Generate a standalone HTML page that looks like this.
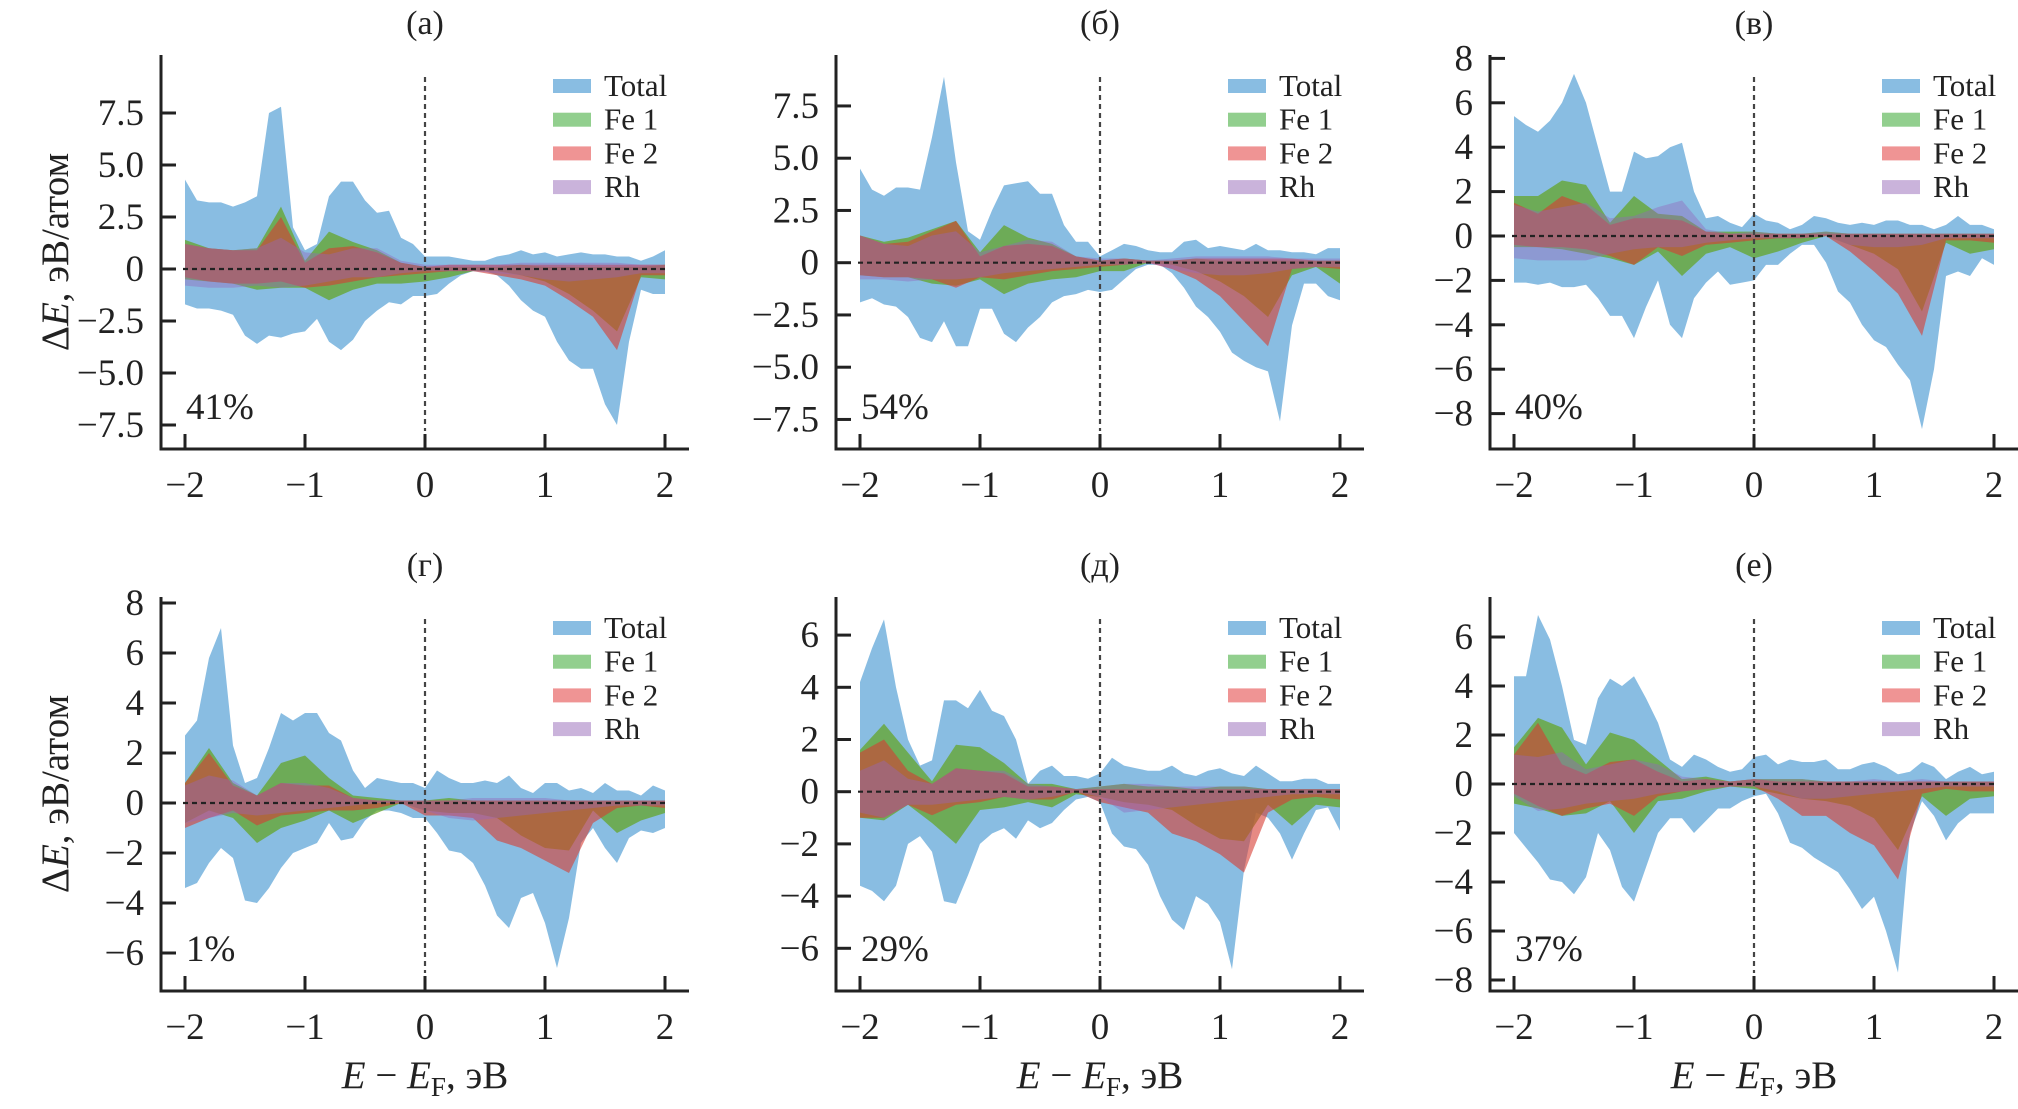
<!DOCTYPE html>
<html><head><meta charset="utf-8">
<style>
html,body{margin:0;padding:0;background:#fff;}
svg{display:block;font-family:"Liberation Serif",serif;}
svg text{font-family:"Liberation Serif",serif;}
</style></head>
<body>
<svg id="fig" width="2018" height="1109" viewBox="0 0 2018 1109" xmlns="http://www.w3.org/2000/svg"></svg>
<script>
const xFine=[-2.0,-1.9,-1.8,-1.7,-1.6,-1.5,-1.4,-1.3,-1.2,-1.1,-1.0,-0.9,-0.8,-0.7,-0.6,-0.5,-0.4,-0.3,-0.2,-0.1,0.0,0.1,0.2,0.3,0.4,0.5,0.6,0.7,0.8,0.9,1.0,1.1,1.2,1.3,1.4,1.5,1.6,1.7,1.8,1.9,2.0];
const xCoarse=[-2.0,-1.8,-1.6,-1.4,-1.2,-1.0,-0.8,-0.6,-0.4,-0.2,0.0,0.2,0.4,0.6,0.8,1.0,1.2,1.4,1.6,1.8,2.0];
const xTicks=[-2,-1,0,1,2];
const xTickLabels=["−2","−1","0","1","2"];
const panelTitles=["(а)","(б)","(в)","(г)","(д)","(е)"];
const panelPercents=["41%","54%","40%","1%","29%","37%"];
const seriesNames=["Total","Fe 1","Fe 2","Rh"];
const yTicksA=[-7.5,-5,-2.5,0,2.5,5,7.5];
const yTicksB=[-7.5,-5,-2.5,0,2.5,5,7.5];
const yTicksC=[-8,-6,-4,-2,0,2,4,6,8];
const yTicksD=[-6,-4,-2,0,2,4,6,8];
const yTicksE=[-6,-4,-2,0,2,4,6];
const yTicksF=[-8,-6,-4,-2,0,2,4,6];

// Panel (а)
const totalUpA=[4.3,3.3,3.2,3.2,3.0,3.2,3.5,7.5,7.8,2.0,0.9,1.2,3.5,4.2,4.2,3.3,2.7,2.8,1.5,1.2,0.6,0.6,0.6,0.5,0.4,0.4,0.6,0.7,0.9,0.7,0.8,0.6,0.7,0.8,0.7,0.7,0.6,0.6,0.4,0.6,0.9];
const totalLoA=[-1.7,-1.9,-1.9,-2.0,-2.2,-3.2,-3.6,-3.2,-3.3,-3.1,-3.0,-2.4,-3.5,-3.9,-3.4,-2.5,-2.0,-1.6,-1.7,-1.3,-1.3,-1.2,-0.7,-0.3,-0.1,-0.1,-0.3,-0.8,-1.5,-2.0,-2.3,-3.5,-4.4,-4.8,-4.8,-6.5,-7.5,-3.5,-1.0,-1.2,-1.2];
const fe1UpA=[1.4,1.0,0.9,1.0,3.0,0.4,1.8,1.3,0.9,0.3,0.1,0.1,0.1,0.1,0.2,0.1,0.1,0.1,0.1,0.1,0.2];
const fe1LoA=[-0.5,-0.6,-0.7,-1.0,-0.9,-0.9,-1.5,-1.0,-0.7,-0.7,-0.6,-0.4,-0.1,-0.1,-0.3,-0.6,-1.2,-2.0,-3.0,-0.4,-0.5];
const fe2UpA=[1.2,1.0,0.9,0.9,2.5,0.3,1.0,1.1,0.8,0.3,0.1,0.2,0.2,0.2,0.2,0.2,0.2,0.2,0.2,0.2,0.2];
const fe2LoA=[-0.4,-0.6,-0.7,-0.7,-0.6,-0.9,-0.8,-0.6,-0.4,-0.3,-0.2,-0.1,-0.1,-0.3,-0.5,-0.8,-1.5,-2.3,-3.9,-0.3,-0.3];
const rhUpA=[1.2,1.0,0.9,1.0,1.5,0.8,0.7,1.0,1.0,0.4,0.2,0.2,0.2,0.2,0.3,0.3,0.3,0.3,0.3,0.2,0.2];
const rhLoA=[-0.8,-0.9,-0.9,-0.8,-0.9,-0.8,-0.6,-0.4,-0.4,-0.2,-0.1,-0.1,-0.1,-0.2,-0.3,-0.5,-0.6,-0.5,-0.4,-0.2,-0.2];

// Panel (б)
const totalUpB=[4.5,3.5,3.2,3.6,3.6,3.5,6.0,8.9,4.8,1.5,1.1,2.5,3.7,3.8,3.9,3.3,3.3,1.8,1.0,1.0,0.3,0.6,0.9,0.8,0.6,0.5,0.5,1.0,1.1,0.7,0.8,0.7,0.6,0.9,0.6,0.6,0.5,0.5,0.4,0.7,0.7];
const totalLoB=[-1.9,-1.7,-2.0,-2.1,-2.6,-3.6,-3.8,-2.8,-4.0,-4.0,-2.2,-2.2,-3.4,-3.8,-3.1,-2.6,-1.9,-1.6,-1.5,-1.3,-1.4,-1.3,-0.8,-0.3,-0.1,-0.1,-0.5,-1.2,-2.1,-2.6,-3.3,-4.3,-4.7,-5.0,-5.2,-7.6,-3.0,-1.0,-1.0,-1.6,-1.8];
const fe1UpB=[1.3,1.0,1.2,1.6,2.0,0.5,1.8,1.2,0.9,0.3,0.1,0.2,0.1,0.1,0.2,0.1,0.1,0.1,0.1,0.1,0.1];
const fe1LoB=[-0.6,-0.7,-0.7,-1.0,-1.1,-0.8,-1.5,-1.0,-0.8,-0.7,-0.4,-0.4,0,-0.1,-0.4,-0.9,-1.6,-2.6,-0.6,-0.2,-1.0];
const fe2UpB=[1.3,0.9,1.0,1.5,2.0,0.3,0.8,0.9,0.8,0.3,0.1,0.2,0.1,0.1,0.2,0.2,0.2,0.2,0.2,0.1,0.1];
const fe2LoB=[-0.6,-0.7,-0.7,-0.8,-1.2,-0.7,-0.8,-0.6,-0.4,-0.3,-0.2,-0.1,0,-0.3,-0.8,-1.6,-2.8,-4.0,-0.3,-0.2,-0.3];
const rhUpB=[1.3,0.9,0.8,1.3,1.5,0.5,0.8,1.1,1.0,0.3,0.2,0.2,0.1,0.2,0.3,0.3,0.3,0.3,0.2,0.2,0.2];
const rhLoB=[-0.8,-0.8,-0.9,-0.8,-0.8,-0.7,-0.5,-0.4,-0.3,-0.2,-0.1,-0.1,0,-0.3,-0.5,-0.6,-0.6,-0.5,-0.3,-0.2,-0.2];

// Panel (в)
const totalUpC=[5.4,5.0,4.7,5.2,6.0,7.3,6.0,4.0,2.0,2.0,3.8,3.5,3.6,4.0,4.2,2.0,0.8,0.9,0.6,0.4,1.0,0.7,0.6,0.3,0.5,0.9,0.8,0.6,0.5,0.6,0.5,0.7,0.7,0.5,0.5,0.3,0.5,0.9,0.5,0.5,0.3];
const totalLoC=[-2.1,-2.1,-2.2,-2.1,-2.3,-2.3,-2.2,-2.8,-3.6,-3.6,-4.6,-3.2,-2.0,-4.0,-4.6,-2.8,-2.1,-1.6,-2.2,-2.1,-2.0,-1.3,-1.3,-0.8,-0.4,-0.4,-1.2,-2.5,-3.0,-4.0,-4.7,-5.0,-5.8,-6.5,-8.7,-6.0,-1.8,-1.6,-1.8,-1.0,-1.3];
const fe1UpC=[1.8,1.8,2.5,2.3,0.6,1.8,1.0,0.9,0.2,0.2,0.2,0.1,0.1,0.2,0.1,0.1,0.1,0.1,0.1,0.1,0.1];
const fe1LoC=[-0.5,-0.5,-0.6,-0.8,-1.0,-1.3,-0.7,-1.8,-0.8,-0.5,-1.0,-0.7,-0.3,0,-0.4,-0.8,-1.5,-3.4,-0.3,-0.8,-0.6];
const fe2UpC=[1.5,1.0,1.8,1.4,0.5,0.8,0.8,0.7,0.2,0.1,0.1,0.1,0.1,0.1,0.1,0.1,0.1,0.1,0.1,0.1,0.1];
const fe2LoC=[-0.4,-0.5,-0.5,-0.6,-0.9,-1.3,-0.5,-0.9,-0.4,-0.3,-0.2,-0.1,-0.1,0,-0.7,-1.6,-2.6,-4.5,-0.2,-0.2,-0.3];
const rhUpC=[1.4,1.1,1.3,1.5,0.8,0.9,1.3,1.6,0.3,0.1,0.2,0.1,0.1,0.2,0.1,0.1,0.1,0.1,0.1,0.1,0.1];
const rhLoC=[-1.0,-1.1,-1.1,-1.1,-0.8,-0.6,-0.5,-0.5,-0.3,-0.2,-0.1,-0.1,-0.1,0,-0.4,-0.5,-0.5,-0.4,-0.1,-0.1,-0.1];

// Panel (г)
const totalUpD=[2.7,3.3,5.8,7.0,2.3,0.8,1.0,2.2,3.6,3.3,3.6,3.6,2.8,2.5,1.3,0.6,1.0,0.9,0.8,0.8,0.6,1.3,1.0,0.8,0.8,0.9,0.8,1.1,0.6,0.4,0.8,0.8,0.5,0.6,0.4,0.8,0.5,0.5,0.3,0.7,0.5];
const totalLoD=[-3.4,-3.2,-2.4,-1.8,-2.2,-3.9,-4.0,-3.4,-2.6,-2.0,-1.8,-1.6,-0.8,-1.5,-1.4,-0.7,-0.3,-0.3,-0.4,-0.6,-0.6,-1.2,-1.9,-2.0,-2.4,-3.3,-4.5,-5.0,-3.8,-3.6,-4.8,-6.6,-4.6,-1.6,-1.0,-1.8,-2.4,-1.4,-1.1,-1.2,-1.0];
const fe1UpD=[0.8,2.2,0.8,0.3,1.6,1.9,1.0,0.3,0.2,0.1,0.1,0.2,0.1,0.1,0.1,0.1,0.1,0.1,0.1,0.1,0.1];
const fe1LoD=[-0.8,-0.3,-0.6,-1.6,-1.0,-0.7,-0.3,-0.8,-0.4,0,-0.3,-0.4,-0.4,-0.6,-1.3,-1.8,-1.9,-0.3,-1.2,-0.7,-0.4];
const fe2UpD=[0.8,2.0,0.7,0.3,0.8,0.7,0.7,0.2,0.1,0.1,0.1,0.1,0.1,0.1,0.1,0.1,0.1,0.1,0.1,0.1,0.1];
const fe2LoD=[-1.0,-0.6,-0.3,-0.9,-0.5,-0.4,-0.3,-0.3,-0.2,0,-0.5,-0.5,-0.6,-1.5,-1.8,-2.3,-2.8,-0.8,-0.2,-0.1,-0.2];
const rhUpD=[0.7,1.1,0.9,0.3,0.8,0.8,0.6,0.2,0.1,0.1,0.1,0.1,0.2,0.2,0.2,0.2,0.1,0.1,0.1,0.1,0.1];
const rhLoD=[-0.8,-0.6,-0.4,-0.5,-0.4,-0.3,-0.2,-0.1,0,0,-0.3,-0.6,-0.7,-0.6,-0.5,-0.4,-0.3,-0.2,-0.1,-0.1,-0.1];

// Panel (д)
const totalUpE=[4.2,5.5,6.6,4.0,2.0,1.0,1.2,3.5,3.5,3.2,3.9,3.1,2.9,2.0,0.3,0.8,1.0,0.6,0.6,0.5,0.7,1.3,1.0,0.9,0.8,0.8,1.0,0.7,0.6,0.8,0.9,0.7,0.6,1.0,0.7,0.4,0.4,0.5,0.5,0.3,0.3];
const totalLoE=[-3.6,-3.8,-4.2,-3.6,-2.0,-1.7,-2.3,-4.2,-4.3,-3.2,-2.0,-1.6,-1.4,-1.8,-1.1,-1.4,-1.2,-0.7,-0.3,-0.2,-0.4,-1.6,-2.1,-2.2,-2.8,-4.0,-4.9,-5.3,-4.0,-4.3,-5.0,-6.8,-3.0,-0.8,-1.0,-1.6,-2.6,-1.6,-0.7,-0.6,-1.5];
const fe1UpE=[1.6,2.6,1.5,0.4,1.8,1.7,1.1,0.3,0.3,0.1,0.2,0.3,0.2,0.2,0.1,0.2,0.2,0.1,0.1,0.1,0.1];
const fe1LoE=[-1.0,-1.1,-0.5,-1.2,-2.0,-0.7,-0.6,-0.4,-0.6,-0.1,-0.2,-0.4,-0.5,-0.7,-1.3,-1.8,-1.9,-0.5,-1.3,-0.5,-0.6];
const fe2UpE=[1.5,2.0,0.8,0.3,0.9,0.8,0.7,0.2,0.2,0.1,0.1,0.1,0.1,0.1,0.1,0.1,0.1,0.1,0.1,0.1,0.1];
const fe2LoE=[-1.0,-1.0,-0.5,-0.9,-0.5,-0.4,-0.2,-0.3,-0.3,0,-0.4,-0.6,-0.8,-1.6,-1.9,-2.4,-3.1,-0.8,-0.3,-0.2,-0.3];
const rhUpE=[0.8,1.2,0.5,0.3,0.9,0.8,0.8,0.3,0.2,0.1,0.2,0.3,0.3,0.2,0.2,0.2,0.2,0.1,0.1,0.1,0.1];
const rhLoE=[-0.8,-1.0,-0.5,-0.5,-0.4,-0.3,-0.2,-0.3,-0.2,0,-0.2,-0.8,-0.7,-0.6,-0.5,-0.4,-0.3,-0.2,-0.1,-0.1,-0.1];

// Panel (е)
const totalUpF=[4.4,4.4,6.9,5.9,4.0,1.8,1.6,3.5,4.3,4.0,4.4,3.5,2.5,1.0,0.7,1.2,1.0,0.7,0.5,0.6,1.1,1.2,0.8,1.0,0.9,0.9,1.0,0.6,0.6,0.8,0.9,0.7,0.4,0.5,0.9,0.7,0.2,0.5,0.7,0.4,0.5];
const totalLoF=[-2.0,-2.6,-3.2,-3.9,-4.0,-4.5,-3.8,-2.0,-2.7,-4.2,-4.8,-3.4,-2.0,-1.4,-1.4,-2.0,-1.5,-1.0,-1.0,-0.7,-0.5,-0.4,-1.2,-2.4,-2.6,-3.0,-3.3,-3.6,-4.3,-5.1,-4.6,-6.0,-7.7,-2.0,-0.7,-1.3,-2.3,-1.6,-1.2,-1.2,-1.2];
const fe1UpF=[1.5,2.7,2.3,0.8,2.1,1.8,1.0,0.2,0.3,0.1,0.2,0.2,0.2,0.1,0.1,0.1,0.1,0.1,0.1,0.1,0.1];
const fe1LoF=[-0.8,-1.0,-1.3,-1.2,-0.7,-2.0,-0.7,-0.6,-0.3,-0.1,-0.2,-0.4,-0.6,-0.7,-0.9,-1.4,-2.7,-0.5,-1.3,-0.6,-0.5];
const fe2UpF=[1.2,2.5,0.8,0.4,0.9,1.0,0.5,0.1,0.2,0.1,0.2,0.1,0.1,0.1,0.1,0.1,0.1,0.1,0.1,0.1,0.1];
const fe2LoF=[-0.4,-0.9,-1.3,-1.0,-0.8,-1.3,-0.5,-0.3,-0.2,-0.1,-0.1,-0.6,-1.3,-1.3,-2.0,-2.5,-3.9,-0.4,-0.2,-0.3,-0.3];
const rhUpF=[1.2,1.1,1.3,0.6,0.8,1.0,0.8,0.3,0.2,0.1,0.2,0.2,0.2,0.1,0.1,0.2,0.1,0.2,0.1,0.1,0.1];
const rhLoF=[-0.5,-1.1,-1.0,-0.8,-0.7,-0.6,-0.4,-0.3,-0.2,-0.1,-0.1,-0.3,-0.6,-0.6,-0.5,-0.4,-0.3,-0.2,-0.1,-0.1,-0.1];

const panelData=[
 {t:[totalUpA,totalLoA],f1:[fe1UpA,fe1LoA],f2:[fe2UpA,fe2LoA],rh:[rhUpA,rhLoA],yt:yTicksA},
 {t:[totalUpB,totalLoB],f1:[fe1UpB,fe1LoB],f2:[fe2UpB,fe2LoB],rh:[rhUpB,rhLoB],yt:yTicksB},
 {t:[totalUpC,totalLoC],f1:[fe1UpC,fe1LoC],f2:[fe2UpC,fe2LoC],rh:[rhUpC,rhLoC],yt:yTicksC},
 {t:[totalUpD,totalLoD],f1:[fe1UpD,fe1LoD],f2:[fe2UpD,fe2LoD],rh:[rhUpD,rhLoD],yt:yTicksD},
 {t:[totalUpE,totalLoE],f1:[fe1UpE,fe1LoE],f2:[fe2UpE,fe2LoE],rh:[rhUpE,rhLoE],yt:yTicksE},
 {t:[totalUpF,totalLoF],f1:[fe1UpF,fe1LoF],f2:[fe2UpF,fe2LoF],rh:[rhUpF,rhLoF],yt:yTicksF}
];
const layout=[
 {ax:161,top:55,bot:449,y0:269,yu:20.8},
 {ax:836,top:55,bot:449,y0:262.7,yu:20.9},
 {ax:1490,top:55,bot:449,y0:236,yu:22.2},
 {ax:161,top:597,bot:991,y0:803,yu:25},
 {ax:836,top:597,bot:991,y0:791.7,yu:26.1},
 {ax:1490,top:597,bot:991,y0:784,yu:24.5}
];
const fills=["#89bde2","rgba(100,165,40,0.75)","rgba(215,60,50,0.6)","rgba(148,103,189,0.42)"];
const legendFills=["#89bde2","#92cf8e","#ef9494","#cab3db"];
const FONT='"Liberation Serif", serif';
const NS="http://www.w3.org/2000/svg";
const svg=document.getElementById('fig');
function mk(tag,attrs,parent){const e=document.createElementNS(NS,tag);for(const k in attrs)e.setAttribute(k,attrs[k]);if(tag==='text')e.setAttribute('font-family',FONT);(parent||svg).appendChild(e);return e;}
function fmt(v,dec){const s=dec?Math.abs(v).toFixed(1):String(Math.abs(v));return v===0?"0":(v<0?"−":"")+s;}

layout.forEach((L,pi)=>{
  const D=panelData[pi];
  const xs=v=>L.ax+24+(v+2)*120;
  const ys=v=>L.y0-v*L.yu;
  const g=mk('g',{});
  
  
  function band(xarr,up,lo,fill,name){
    let d="M"+xarr.map((x,i)=>xs(x).toFixed(1)+","+ys(up[i]).toFixed(1)).join("L");
    for(let i=xarr.length-1;i>=0;i--)d+="L"+xs(xarr[i]).toFixed(1)+","+ys(lo[i]).toFixed(1);
    const p=mk('path',{d:d+"Z",fill:fill,stroke:'none'},g);
    
    
  }
  band(xFine,D.t[0],D.t[1],fills[0],'total-band');
  band(xCoarse,D.f1[0],D.f1[1],fills[1],'fe1-band');
  band(xCoarse,D.f2[0],D.f2[1],fills[2],'fe2-band');
  band(xCoarse,D.rh[0],D.rh[1],fills[3],'rh-band');
  const hz=mk('line',{x1:xs(-2)-2,x2:xs(2)+2,y1:ys(0),y2:ys(0),stroke:'#222','stroke-width':2.2,'stroke-dasharray':'5,4'},g);
  
  
  const vt=mk('line',{x1:xs(0),x2:xs(0),y1:L.top+22,y2:L.bot-18,stroke:'#444','stroke-width':2.2,'stroke-dasharray':'5,4'},g);
  
  
  const ya=mk('line',{x1:L.ax,x2:L.ax,y1:L.top,y2:L.bot+1.5,stroke:'#222','stroke-width':3},g);
  
  
  const xa=mk('line',{x1:L.ax-1.5,x2:L.ax+528,y1:L.bot,y2:L.bot,stroke:'#222','stroke-width':3},g);
  
  
  xTicks.forEach((v,i)=>{
    const t=mk('line',{x1:xs(v),x2:xs(v),y1:L.bot,y2:L.bot-15,stroke:'#222','stroke-width':3},g);
    
    
    const tx=mk('text',{x:xs(v),y:L.bot+48,'text-anchor':'middle','font-size':37,fill:'#222'},g);
    tx.textContent=xTickLabels[i];
    
    
  });
  const dec=D.yt.some(v=>v%1!==0);
  D.yt.forEach(v=>{
    const t=mk('line',{x1:L.ax,x2:L.ax+15,y1:ys(v),y2:ys(v),stroke:'#222','stroke-width':3},g);
    
    
    const tx=mk('text',{x:L.ax-17,y:ys(v)+12,'text-anchor':'end','font-size':37,fill:'#222'},g);
    tx.textContent=fmt(v,dec);
    
    
  });
  const ti=mk('text',{x:L.ax+264,y:L.top-21,'text-anchor':'middle','font-size':34,fill:'#222'},g);
  ti.textContent=panelTitles[pi];
  
  
  const pc=mk('text',{x:L.ax+25,y:L.bot-30,'font-size':37,fill:'#222'},g);
  pc.textContent=panelPercents[pi];
  
  
  const lg=mk('g',{},g);
  
  
  seriesNames.forEach((n,i)=>{
    const cy=L.top+31+i*33.7;
    const r=mk('rect',{x:L.ax+392,y:cy-7,width:38,height:14,fill:legendFills[i]},lg);
    
    
    const tx=mk('text',{x:L.ax+443,y:cy+10,'font-size':31,fill:'#222'},lg);
    tx.textContent=n;
    
    
  });
  if(pi%3===0){
    const cy=(L.top+L.bot)/2;
    const yl=mk('text',{x:0,y:0,'text-anchor':'middle','font-size':39,fill:'#222',transform:'translate(68,'+cy+') rotate(-90)'},g);
    yl.innerHTML='Δ<tspan font-style="italic">E</tspan>, эВ/атом';
    
    
  }
  if(pi>=3){
    const xl=mk('text',{x:L.ax+264,y:1088,'text-anchor':'middle','font-size':39,fill:'#222'},g);
    xl.innerHTML='<tspan font-style="italic">E</tspan> − <tspan font-style="italic">E</tspan><tspan font-size="27" dy="8">F</tspan><tspan dy="-8">, эВ</tspan>';
    
    
  }
});
</script>
</body></html>
